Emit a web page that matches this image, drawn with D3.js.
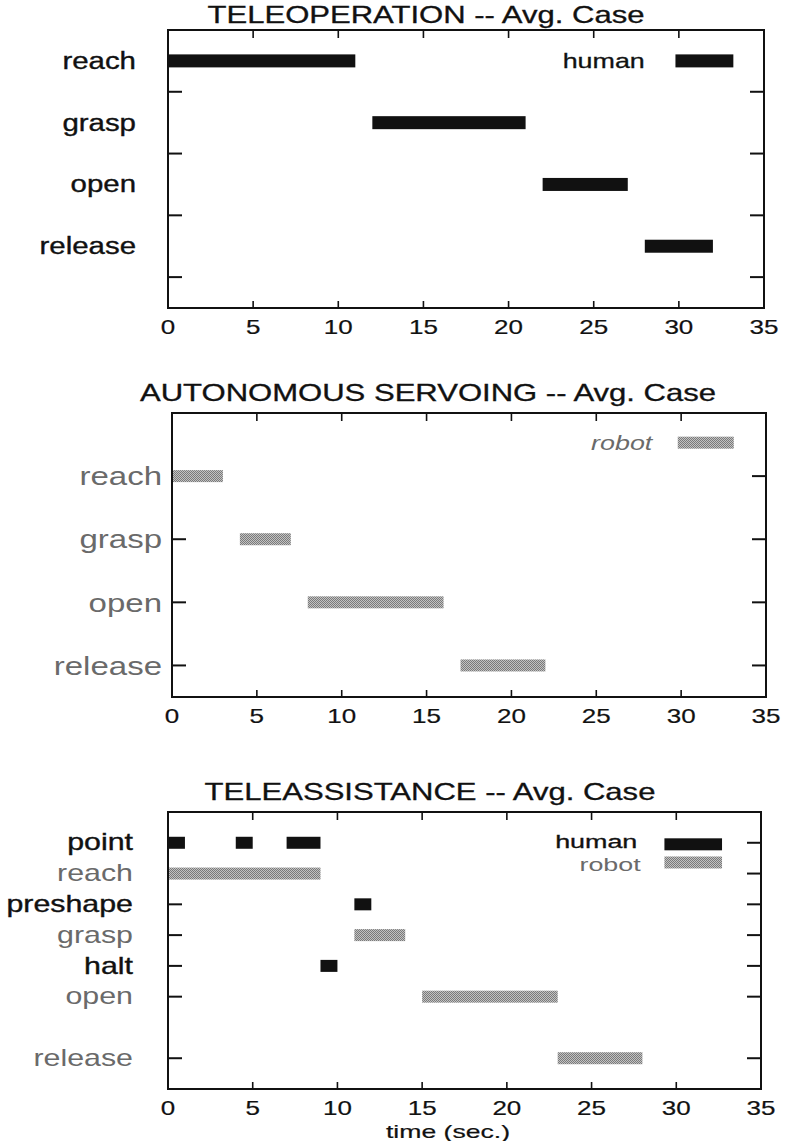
<!DOCTYPE html>
<html>
<head>
<meta charset="utf-8">
<script src="https://cdn.jsdelivr.net/npm/d3@7"></script>
<style>
  body { margin: 0; background: #fff; }
  text { font-family: "Liberation Sans", Arial, Helvetica, sans-serif; }
</style>
</head>
<body>
<div id="chart"></div>
<script>
const width = 785;
const height = 1141;

const xTicks = [0, 5, 10, 15, 20, 25, 30, 35];

// TELEOPERATION
const teleopTasks = ["reach", "grasp", "open", "release"];
const teleopRowPos = [1, 2, 3, 4];
const teleopStart = [0, 12, 22, 28];
const teleopEnd = [11, 21, 27, 32];

// AUTONOMOUS SERVOING
const autoTasks = ["reach", "grasp", "open", "release"];
const autoRowPos = [1, 2, 3, 4];
const autoStart = [0, 4, 8, 17];
const autoEnd = [3, 7, 16, 22];

// TELEASSISTANCE
const assistTasks = ["point", "reach", "preshape", "grasp", "halt", "open", "release"];
const assistRowPos = [1, 2, 3, 4, 5, 6, 8];
const assistAgent = ["human", "robot", "human", "robot", "human", "robot", "robot"];
const assistSegTask = ["point", "point", "point", "reach", "preshape", "grasp", "halt", "open", "release"];
const assistSegStart = [0, 4, 7, 0, 11, 11, 9, 15, 23];
const assistSegEnd = [1, 5, 9, 9, 12, 14, 10, 23, 28];

const svg = d3.select("#chart")
  .append("svg")
  .attr("width", width)
  .attr("height", height);

// dithered gray like the scan
const defs = svg.append("defs");
const pat = defs.append("pattern")
  .attr("id", "dither")
  .attr("width", 2)
  .attr("height", 2)
  .attr("patternUnits", "userSpaceOnUse");
pat.append("rect").attr("width", 2).attr("height", 2).attr("fill", "#c2c2c2");
pat.append("rect").attr("width", 1).attr("height", 1).attr("fill", "#7a7a7a");
pat.append("rect").attr("x", 1).attr("y", 1).attr("width", 1).attr("height", 1).attr("fill", "#7a7a7a");

const BLACK = "#111";
const GRAYTEXT = "#6a6a6a";
const GRAYBAR = "url(#dither)";

// the scanned figure is stretched sideways, so text is widened too
function label(g, str, x, y, opts) {
  const t = g.append("text")
    .attr("transform", `translate(${x},${y}) scale(${opts.sx || 1.3},1)`)
    .attr("text-anchor", opts.anchor || "middle")
    .attr("dominant-baseline", "central")
    .attr("font-size", opts.size)
    .attr("fill", opts.fill || BLACK)
    .text(str);
  if (opts.italic) t.attr("font-style", "italic");
  if (opts.stroke) t.attr("stroke", opts.fill || BLACK).attr("stroke-width", opts.stroke);
  return t;
}

function drawPanel(p) {
  const x = d3.scaleLinear().domain([0, 35]).range([p.left, p.right]);
  const y = d3.scaleLinear().domain(p.yDomain).range([p.top, p.bottom]);
  const g = svg.append("g");

  label(g, p.title, p.titleX, p.titleY, { size: 23, sx: 1.35, stroke: 0.3 });

  // x ticks, inward on top and bottom
  g.selectAll(".xt-top")
    .data(xTicks.slice(1, -1))
    .enter().append("line")
    .attr("x1", d => x(d)).attr("x2", d => x(d))
    .attr("y1", p.top).attr("y2", p.top + 8)
    .attr("stroke", BLACK).attr("stroke-width", 1.6);

  g.selectAll(".xt-bot")
    .data(xTicks.slice(1, -1))
    .enter().append("line")
    .attr("x1", d => x(d)).attr("x2", d => x(d))
    .attr("y1", p.bottom).attr("y2", p.bottom - 7)
    .attr("stroke", BLACK).attr("stroke-width", 1.6);

  xTicks.forEach(d => {
    label(g, String(d), x(d), p.bottom + 19, { size: 20, sx: 1.3, stroke: 0.2 });
  });

  // y ticks, inward on left and right
  g.selectAll(".yt-l")
    .data(p.yTicks)
    .enter().append("line")
    .attr("x1", p.left).attr("x2", p.left + 14)
    .attr("y1", d => y(d)).attr("y2", d => y(d))
    .attr("stroke", BLACK).attr("stroke-width", 2);

  g.selectAll(".yt-r")
    .data(p.yTicks)
    .enter().append("line")
    .attr("x1", p.right).attr("x2", p.right - 14)
    .attr("y1", d => y(d)).attr("y2", d => y(d))
    .attr("stroke", BLACK).attr("stroke-width", 2);

  // category labels
  p.tasks.forEach((t, i) => {
    const robot = p.agent[i] === "robot";
    label(g, t, p.labelX, y(p.rowPos[i]), {
      size: p.labelSize,
      anchor: "end",
      sx: p.labelSx,
      fill: robot ? GRAYTEXT : BLACK,
      stroke: robot ? 0 : 0.35
    });
  });

  // bars
  const rowOf = d3.scaleOrdinal().domain(p.tasks).range(p.rowPos);
  const agentOf = d3.scaleOrdinal().domain(p.tasks).range(p.agent);
  const segs = p.segTask.map((t, i) => ({ task: t, start: p.segStart[i], end: p.segEnd[i] }));

  g.selectAll(".bar")
    .data(segs)
    .enter().append("rect")
    .attr("x", d => x(d.start))
    .attr("y", d => y(rowOf(d.task)) - p.barH / 2)
    .attr("width", d => x(d.end) - x(d.start))
    .attr("height", p.barH)
    .attr("fill", d => agentOf(d.task) === "robot" ? GRAYBAR : BLACK);

  // legend
  p.legend.forEach(l => {
    const robot = l.name === "robot";
    label(g, l.name, x(l.textAt), y(l.textRow || l.row), {
      size: p.legendSize, anchor: "end", sx: 1.28 * 21 / p.legendSize,
      italic: l.italic,
      fill: robot ? GRAYTEXT : BLACK,
      stroke: robot ? 0 : 0.3
    });
    g.append("rect")
      .attr("x", x(l.from))
      .attr("y", y(l.row) - p.barH / 2)
      .attr("width", x(l.to) - x(l.from))
      .attr("height", p.barH)
      .attr("fill", robot ? GRAYBAR : BLACK);
  });

  // frame
  g.append("rect")
    .attr("x", p.left).attr("y", p.top)
    .attr("width", p.right - p.left).attr("height", p.bottom - p.top)
    .attr("fill", "none")
    .attr("stroke", BLACK)
    .attr("stroke-width", 2);

  if (p.xTitle) {
    label(g, p.xTitle, p.xTitleX, p.bottom + 42, { size: 19, sx: 1.4, stroke: 0.2 });
  }
}

drawPanel({
  title: "TELEOPERATION -- Avg. Case", titleX: 426, titleY: 15,
  left: 168, right: 764, top: 30, bottom: 308,
  yDomain: [0.5, 5], yTicks: [1.5, 2.5, 3.5, 4.5],
  tasks: teleopTasks, rowPos: teleopRowPos, agent: teleopTasks.map(() => "human"),
  segTask: teleopTasks, segStart: teleopStart, segEnd: teleopEnd,
  labelX: 136, labelSize: 23, labelSx: 1.28, barH: 13, legendSize: 21,
  legend: [{ name: "human", row: 1, textAt: 28, from: 29.8, to: 33.2 }]
});

drawPanel({
  title: "AUTONOMOUS SERVOING -- Avg. Case", titleX: 428, titleY: 393,
  left: 172, right: 766, top: 413, bottom: 697,
  yDomain: [0, 4.5], yTicks: [1, 2, 3, 4],
  tasks: autoTasks, rowPos: autoRowPos, agent: autoTasks.map(() => "robot"),
  segTask: autoTasks, segStart: autoStart, segEnd: autoEnd,
  labelX: 162, labelSize: 26, labelSx: 1.27, barH: 12, legendSize: 21,
  legend: [{ name: "robot", row: 0.47, textAt: 28.3, from: 29.8, to: 33.1, italic: true }]
});

drawPanel({
  title: "TELEASSISTANCE -- Avg. Case", titleX: 430, titleY: 792,
  left: 168, right: 761, top: 812, bottom: 1089,
  yDomain: [0, 9], yTicks: assistRowPos,
  tasks: assistTasks, rowPos: assistRowPos, agent: assistAgent,
  segTask: assistSegTask, segStart: assistSegStart, segEnd: assistSegEnd,
  labelX: 133, labelSize: 23, labelSx: 1.32, barH: 12, legendSize: 18,
  legend: [
    { name: "human", row: 1.05, textRow: 0.98, textAt: 27.7, from: 29.3, to: 32.7 },
    { name: "robot", row: 1.64, textRow: 1.7, textAt: 27.9, from: 29.3, to: 32.7 }
  ],
  xTitle: "time (sec.)", xTitleX: 448
});
</script>
</body>
</html>
